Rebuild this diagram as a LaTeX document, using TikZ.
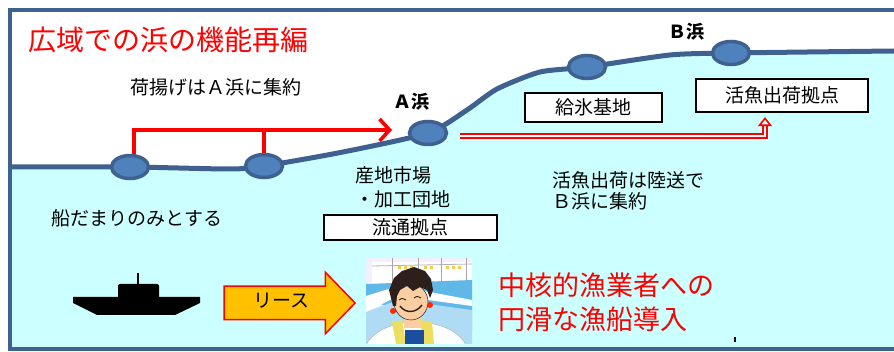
\documentclass[tikz,border=0pt]{standalone}
\usepackage{fontspec}
\setmainfont{Noto Sans CJK JP}
\usepackage{tikz}
\usetikzlibrary{arrows.meta,positioning,shapes,shapes.arrows}
\definecolor{coastblue}{RGB}{62,97,143}
\definecolor{portblue}{RGB}{79,129,189}
\definecolor{seacyan}{RGB}{204,255,255}
\definecolor{leaseorange}{RGB}{255,192,0}
\definecolor{skin}{RGB}{250,206,162}
\definecolor{hair}{RGB}{45,32,28}
\definecolor{towel}{RGB}{238,222,96}
\definecolor{apron}{RGB}{28,78,160}
\definecolor{harbour}{RGB}{96,184,232}
\tikzstyle{port}=[ellipse,fill=portblue,draw=coastblue,line width=3.5pt,minimum width=37pt,minimum height=23pt,inner sep=0pt]
\tikzstyle{txt}=[inner sep=0pt,font=\fontsize{19}{23}\selectfont,align=left]
\tikzstyle{hama}=[inner sep=0pt,font=\bfseries\fontsize{18}{20}\selectfont]
\tikzstyle{facil}=[draw=black,fill=white,line width=2.2pt,inner sep=0pt,font=\fontsize{19}{23}\selectfont]
\tikzstyle{haul}=[draw=red,line width=3.6pt]
\tikzstyle{liveway}=[draw=red,line width=1.9pt,double=white,double distance=2.6pt,-{Triangle[open,length=9pt,width=14pt,line width=1.6pt]}]
\tikzstyle{lease}=[single arrow,draw=red,line width=1.5pt,fill=leaseorange,minimum height=131pt,text height=14pt,text depth=4pt,inner ysep=7pt,single arrow head extend=14pt,single arrow tip angle=92,font=\fontsize{19}{23}\selectfont]

\begin{document}
\begin{tikzpicture}[x=1pt,y=-1pt]
    \useasboundingbox (0,0) rectangle (894,352);
    % shore line and ports
    \coordinate (s0) at (11,167);
    \coordinate (n0c) at (130,167);
    \coordinate (s1) at (230,169);
    \coordinate (n1c) at (264,166);
    \coordinate (s2) at (343,152);
    \coordinate (nAc) at (428,133);
    \coordinate (s3) at (467,110);
    \coordinate (s4) at (497,89);
    \coordinate (s5) at (540,72);
    \coordinate (n3c) at (587,67);
    \coordinate (s6) at (670,55);
    \coordinate (nBc) at (731,53);
    \coordinate (s7) at (894,51);
    \fill[seacyan] plot[smooth,tension=0.4] coordinates {(s0) (n0c) (s1) (n1c) (s2) (nAc) (s3) (s4) (s5) (n3c) (s6) (nBc) (s7)}
        -- (894,349) -- (11,349) -- cycle;
    \draw[coastblue,line width=5pt] plot[smooth,tension=0.4] coordinates {(s0) (n0c) (s1) (n1c) (s2) (nAc) (s3) (s4) (s5) (n3c) (s6) (nBc) (s7)};
    \draw[coastblue,line width=3.5pt] (894,10) -- (10,10) -- (10,349) -- (894,349);

    \draw (28,40) node[anchor=west,inner sep=0pt,text=red,font=\fontsize{28}{32}\selectfont] (title) {広域での浜の機能再編};
    \draw (216,87) node[txt] (landing) {荷揚げはＡ浜に集約};
    \draw (137,218) node[txt] (mooring) {船だまりのみとする};
    \draw (355,187) node[txt,anchor=west,font=\fontsize{19}{24}\selectfont] (market) {産地市場\\・加工団地};
    \draw (552,191) node[txt,anchor=west,font=\fontsize{19}{21.5}\selectfont] (landroute) {活魚出荷は陸送で\\ Ｂ浜に集約};
    \draw (411,102) node[hama] (labA) {Ａ浜};
    \draw (686,32) node[hama] (labB) {Ｂ浜};

    \draw (410.5,227.5) node[facil,minimum width=173pt,minimum height=25pt] (hub) {流通拠点};
    \draw (593.5,107.5) node[facil,minimum width=137pt,minimum height=29pt] (ice) {給氷基地};
    \draw (782,95.5) node[facil,minimum width=172pt,minimum height=33pt] (live) {活魚出荷拠点};

    \coordinate (aTip) at (392,130);
    \draw[haul,-{Straight Barb[length=10pt,width=22pt]}] ([xshift=4pt]n0c) |- (aTip);
    \draw[haul] (n1c) -- (n1c |- aTip);
    \draw[liveway] ([xshift=32pt,yshift=-3pt]nAc) -| ([xshift=-17pt,yshift=-4pt]live.south);

    \draw (n0c) node[port] (n0) {};
    \draw (n1c) node[port] (n1) {};
    \draw (nAc) node[port] (nA) {};
    \draw (n3c) node[port] (n3) {};
    \draw (nBc) node[port] (nB) {};

    % fishing boat
    \fill[black] (73,297) -- (200,297) -- (200,303) -- (175,315) -- (97,315) -- (73,303) -- cycle;
    \fill[black,rounded corners=2pt] (118,298) -- (118,284) -- (159,284) -- (159,298);
    \draw[black,line width=1.2pt] (138,273) -- (138,285);

    \draw (281.5,303) node[lease] (leasearrow) {リース};

    % fisherman
    \begin{scope}
        \clip (366,258) rectangle (472,344);
        \fill[blue!6] (366,258) rectangle (472,344);
        \fill[white] (372,262) rectangle (472,286);
        \foreach \px in {392,418,441,466}
            \draw[gray!70,line width=1pt] (\px,258) -- (\px,286);
        \draw[gray!60,line width=0.8pt] (372,266) -- (472,264);
        \foreach \px in {398,404,410,424,430,446,452,458}
            \fill[towel!80!orange] (\px,266) rectangle ++(3,3);
        \fill[harbour] (366,284) -- (472,280) -- (472,330) -- (366,300) -- cycle;
        \fill[white] (366,296) -- (398,286) -- (472,300) -- (472,306) -- (398,296) -- (366,312) -- cycle;
        \fill[harbour!50] (366,312) -- (398,300) -- (472,310) -- (472,344) -- (366,344) -- cycle;
        \fill[white,draw=gray!60,line width=0.5pt] (416,354) ellipse (52pt and 32pt);
        \fill[skin] (404,312) rectangle (422,328);
        \fill[towel] (392,322) -- (402,320) -- (406,344) -- (396,344) -- cycle;
        \fill[towel] (420,320) -- (432,322) -- (434,344) -- (424,344) -- cycle;
        \fill[apron] (405,330) rectangle (424,344);
        \fill[red!70!orange] (393,311) circle (3pt);
        \fill[red!70!orange] (430,305) circle (3pt);
        \fill[skin,draw=hair,line width=0.5pt] (411,302) ellipse (17pt and 18pt);
        \fill[hair] (393,306) -- (389,290) -- (394,278) -- (402,271) -- (414,267) -- (425,271) -- (431,279)
            -- (433,290) -- (430,298) -- (427,290) -- (420,287) -- (413,291) -- (407,286) -- (400,290) -- (397,296) -- (396,306) -- cycle;
        \draw[hair,line width=0.9pt] (399,300) .. controls (402,298) .. (406,300);
        \draw[hair,line width=0.9pt] (414,298) .. controls (417,296) .. (421,298);
        \draw[hair,line width=1.4pt] (400,306) .. controls (406,314) and (416,313) .. (422,305);
    \end{scope}

    \draw (498,302) node[anchor=west,inner sep=0pt,text=red,align=left,font=\fontsize{27}{34}\selectfont] (goal) {中核的漁業者への\\円滑な漁船導入};
    \draw[black,line width=1.2pt] (735,337) -- (735,342);
\end{tikzpicture}
\end{document}
